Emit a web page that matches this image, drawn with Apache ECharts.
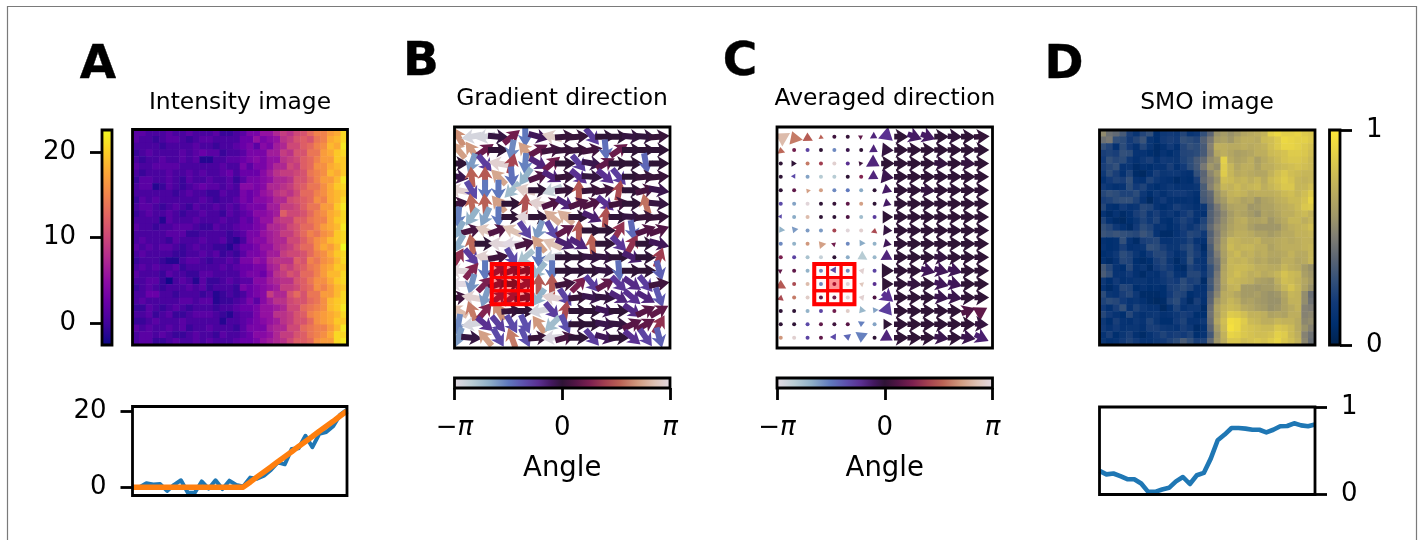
<!DOCTYPE html>
<html><head><meta charset="utf-8">
<style>html,body{margin:0;padding:0;background:#fff}#c{width:1423px;height:540px}</style>
<script src="https://cdn.jsdelivr.net/npm/echarts@6/dist/echarts.min.js"></script>
</head><body><div id="c"></div>
<script>
const titles = ['Intensity image','Gradient direction','Averaged direction','SMO image'];
const panelLetters = ['A','B','C','D'];
const plasmaStops = ['#0d0887','#41049d','#6a00a8','#8f0da4','#b12a90','#cc4778','#e16462','#f1844b','#fca636','#fcce25','#f0f921'];
const cividisStops = ['#00224e','#002f6f','#123a78','#33507a','#5a6474','#7f7d74','#a09768','#b8aa60','#d0be54','#e8d446','#fee838'];
const twilightStops = [[0,'#e2d9e2'],[0.08,'#b9cdd4'],[0.16,'#8fb0c8'],[0.25,'#5f78bd'],[0.32,'#5d50ad'],[0.39,'#5a2f91'],[0.45,'#43185f'],[0.5,'#2f1436'],[0.56,'#521545'],[0.63,'#7d2050'],[0.7,'#a34050'],[0.77,'#bb6355'],[0.85,'#d19a7e'],[0.93,'#dfc3b5'],[1,'#e2d9e2']];

const intensityRows = [
[1,1,0,0,0,1,0,0,1,0,0,0,1,-1,-1,0,1,3,3,5,5,7,9,8,10,11,13,15,15,17,18,21],
[1,0,0,-1,0,1,1,0,-1,0,1,1,0,0,0,0,2,2,5,3,4,5,8,9,11,12,11,14,15,18,19,21],
[0,0,0,0,-1,0,0,0,0,1,0,0,-1,0,0,1,2,3,1,4,3,6,7,10,10,12,13,15,16,19,18,22],
[-1,0,1,0,0,0,0,1,0,1,2,1,1,-1,0,0,1,3,3,3,6,6,9,8,11,11,14,14,17,18,20,21],
[0,-1,0,0,1,0,0,1,0,1,-2,-2,0,0,1,1,2,3,4,3,5,5,8,9,10,12,13,15,17,17,20,20],
[1,0,0,1,1,1,1,0,0,0,0,0,0,1,0,0,3,1,3,3,5,7,7,10,9,12,13,16,16,18,19,20],
[0,-1,0,0,0,1,0,0,1,0,1,0,0,1,2,0,2,2,2,4,6,8,9,9,10,11,14,15,16,19,18,20],
[-1,1,1,0,0,1,0,-1,1,0,0,1,0,0,1,-1,1,3,3,4,5,7,7,8,11,11,13,15,17,17,19,22],
[0,1,1,-2,-1,1,0,-1,0,1,2,1,1,0,1,0,4,4,3,4,7,7,8,9,11,12,14,14,16,18,20,21],
[0,0,0,0,0,0,-1,0,1,0,0,-1,-1,1,0,0,3,2,3,5,6,8,9,8,10,13,13,15,16,18,19,20],
[-1,1,0,1,0,0,0,0,0,0,1,0,-1,0,0,1,3,2,4,4,5,7,7,10,11,12,13,16,15,18,19,21],
[0,1,1,0,-1,0,1,0,-1,1,0,0,1,0,1,0,2,3,3,3,6,6,9,9,10,12,14,14,17,17,20,22],
[-1,0,1,0,0,1,0,-1,0,0,1,0,0,-1,1,0,1,2,4,4,5,6,12,10,10,11,13,15,16,18,19,21],
[0,0,0,0,-2,1,0,0,0,1,0,0,0,1,0,0,2,1,3,5,5,8,9,9,12,12,14,15,15,18,20,21],
[1,0,0,-1,0,0,1,1,1,0,-1,-1,1,0,0,1,2,2,3,4,7,7,8,10,11,13,13,15,17,18,19,22],
[0,0,0,0,0,1,1,1,-1,-1,0,0,0,0,-1,0,1,3,3,5,6,7,9,9,11,13,15,14,16,17,20,21],
[0,1,0,0,0,-1,1,0,0,0,1,0,0,1,-1,-2,0,3,4,4,6,7,7,10,10,12,14,16,17,19,20,21],
[1,0,1,0,1,1,0,-1,0,1,0,0,-1,-1,-2,0,2,2,3,5,5,7,8,9,11,13,13,16,18,17,19,23],
[0,1,0,0,0,0,-1,-1,0,0,1,0,1,-1,0,-1,1,3,3,4,6,6,9,10,10,11,13,15,16,18,20,21],
[-1,0,0,0,-1,-2,-2,0,1,1,0,-1,0,0,1,0,3,3,5,4,7,8,8,8,12,11,15,14,16,17,19,21],
[0,1,0,1,0,0,1,-1,0,0,0,0,0,1,0,1,2,2,3,3,6,7,10,9,11,12,14,15,17,18,20,20],
[1,0,0,0,-1,1,0,0,-1,-1,1,1,0,0,0,0,2,3,3,2,5,8,9,11,10,13,13,15,17,19,19,21],
[0,0,1,1,-1,-3,0,1,0,-2,1,-1,-1,0,1,0,1,1,4,4,6,7,8,8,11,12,14,16,16,18,20,21],
[-1,0,1,0,-1,0,0,0,1,0,1,-1,0,0,0,-1,3,2,3,4,5,6,9,9,10,12,13,16,15,17,19,20],
[0,0,2,2,0,0,-1,0,0,0,-1,0,-2,-1,0,-1,0,2,3,4,9,7,7,11,13,11,14,14,17,17,19,21],
[0,1,0,0,0,0,0,1,1,0,1,1,-2,-1,-1,0,1,3,1,4,6,8,8,10,11,11,13,14,16,19,20,21],
[-1,-1,1,0,-1,0,1,0,-1,0,0,0,-1,0,0,1,2,2,3,5,5,6,7,10,10,13,14,15,16,19,20,22],
[0,0,1,-1,0,1,-1,-1,0,1,1,1,0,-1,-2,0,1,1,3,5,5,8,8,9,11,12,15,16,17,18,19,21],
[-1,-1,0,1,0,0,0,1,0,0,0,0,0,-2,0,0,1,2,3,4,5,6,8,9,11,11,13,16,17,18,20,20],
[1,0,1,0,0,1,0,1,-1,0,0,1,0,0,0,-1,1,3,3,3,6,7,7,10,10,13,14,15,15,17,19,22],
[0,1,1,0,1,0,-1,-1,0,1,0,0,-1,1,0,0,1,2,4,4,5,7,9,9,11,12,14,15,16,18,21,21],
[0,1,1,-1,-1,0,1,0,0,1,0,1,0,0,0,1,2,2,3,5,6,7,8,10,12,12,13,16,17,17,21,22]
];
const smoRows = [
[55,45,42,35,22,15,25,30,10,18,20,18,25,15,18,30,40,58,62,58,62,68,70,72,75,88,92,88,88,90,86,84],
[45,48,30,28,20,25,32,15,10,20,22,20,30,28,25,38,48,62,65,60,68,72,72,70,78,80,85,92,90,88,88,85],
[30,25,12,28,20,12,25,15,8,12,20,12,25,30,28,35,52,72,72,70,70,72,70,72,74,80,85,90,90,88,85,82],
[22,24,22,30,28,14,14,10,8,14,10,15,25,26,28,35,50,68,72,68,64,66,68,72,72,78,80,82,86,86,84,80],
[20,30,26,28,18,12,18,22,12,20,18,16,24,28,35,42,55,60,88,70,66,68,72,64,70,74,78,82,84,84,82,78],
[22,26,30,14,16,8,12,10,14,14,22,12,20,28,34,48,60,56,86,76,68,72,72,66,72,72,76,78,80,82,80,78],
[18,28,22,12,24,8,6,12,22,16,18,18,14,12,30,40,54,62,86,76,70,72,70,68,68,74,80,84,80,78,76,76],
[12,20,24,22,30,14,12,24,18,14,12,8,12,10,22,42,50,58,80,78,74,76,72,76,70,78,82,86,82,76,74,76],
[20,15,12,14,28,20,24,14,10,14,18,14,14,14,16,36,52,62,76,74,78,74,76,78,72,76,80,84,84,76,76,80],
[26,30,28,24,24,28,18,10,18,12,18,20,20,16,12,36,42,58,68,74,76,74,70,72,72,72,74,78,80,76,80,86],
[22,24,28,30,30,24,14,6,14,20,12,12,12,14,10,34,40,56,62,72,70,66,68,60,66,68,72,74,78,78,82,90],
[26,12,10,20,14,16,26,24,14,10,14,22,18,16,12,16,36,48,58,66,68,68,60,62,66,66,70,72,74,78,84,86],
[14,8,14,8,12,22,26,16,22,14,18,12,20,24,14,12,38,46,54,62,68,66,62,58,66,64,68,72,72,76,78,74],
[24,12,8,6,10,16,24,18,24,12,10,18,24,20,12,24,38,48,56,64,70,72,66,66,68,60,66,70,76,76,72,76],
[30,26,18,12,8,20,28,24,14,16,10,14,22,16,22,28,42,52,58,66,70,70,64,60,60,60,60,68,72,74,76,80],
[32,30,32,30,28,26,32,28,14,8,8,14,20,26,24,18,38,50,60,68,72,72,70,66,66,62,66,70,70,74,74,76],
[12,10,12,30,14,8,22,24,26,14,14,16,18,24,14,12,40,52,64,76,74,72,72,74,68,68,70,72,70,72,74,74],
[14,10,12,22,12,14,16,30,28,22,16,16,24,28,20,8,36,54,66,78,74,76,76,72,72,66,70,72,72,72,74,76],
[10,12,18,28,24,16,10,20,26,26,20,12,16,28,22,12,34,50,64,74,78,72,74,70,72,68,68,70,74,70,70,76],
[12,8,14,26,24,10,8,10,22,26,16,8,16,30,16,14,36,46,62,76,74,76,72,68,70,66,66,72,72,68,70,76],
[34,26,14,10,26,12,16,8,20,24,20,10,8,24,20,14,30,44,66,76,78,78,76,72,72,70,70,76,72,70,62,58],
[36,30,14,14,20,12,8,14,12,20,24,14,12,26,26,18,30,48,68,76,80,76,72,74,70,72,76,82,78,76,64,60],
[18,10,20,12,14,16,16,12,14,18,22,20,28,22,24,8,34,50,68,78,76,74,72,66,64,62,72,80,78,74,68,62],
[14,8,14,26,24,10,14,10,12,10,22,24,28,24,14,12,32,50,66,74,76,62,62,60,62,62,68,76,82,76,66,58],
[28,16,14,22,26,18,8,8,8,10,20,26,24,10,14,14,38,54,70,72,68,62,62,64,60,58,60,68,76,74,56,44],
[24,28,26,20,14,16,12,8,6,8,24,28,18,8,22,12,40,60,70,76,72,64,66,62,60,58,58,66,74,74,56,46],
[20,12,22,30,14,24,18,14,14,6,12,24,14,18,18,8,44,66,74,78,76,70,68,64,62,58,60,66,70,74,52,50],
[26,20,14,10,26,16,12,16,18,12,14,18,22,20,10,10,46,64,76,86,84,80,74,74,72,66,68,66,72,72,52,54],
[18,10,22,14,12,18,14,24,16,10,10,20,24,14,14,18,44,68,80,94,92,86,78,76,72,72,76,74,74,70,54,56],
[20,14,20,14,16,16,12,22,22,18,16,14,22,18,8,12,40,62,78,96,92,84,82,80,78,78,84,82,78,70,58,52],
[14,22,10,16,22,12,8,14,20,24,20,22,20,24,10,14,34,58,74,90,88,84,82,80,80,82,88,86,78,72,52,46],
[16,12,14,20,24,20,14,14,18,20,24,28,36,30,22,24,42,60,72,84,84,80,82,84,82,86,90,84,80,74,54,44]
];

const rawProfile = [0,0,1,0.7,0.8,-1,0.6,1.8,-1.5,-1.5,1.5,-0.4,1.8,-0.5,1.7,0.6,0.2,2.5,2.2,3,4.5,6.5,6,10,10.2,13.5,10.5,14,14.5,16,19,20.4];
const fitProfile = [0,0,0,0,0,0,0,0,0,0,0,0,0,0,0,0,0,1.3,2.7,4,5.3,6.7,8,9.3,10.7,12,13.3,14.7,16,17.3,18.7,20];
const smoProfile = [0.27,0.23,0.24,0.21,0.175,0.175,0.125,0.03,0.03,0.057,0.076,0.15,0.2,0.12,0.22,0.247,0.41,0.62,0.685,0.76,0.76,0.753,0.74,0.74,0.71,0.74,0.78,0.783,0.814,0.79,0.78,0.8];

const gradientAngles = [
[120,-170,-170,-5,40,-90,-15,165,5,5,-50,0,0,-5,-3,5],
[130,125,35,0,-100,130,30,10,5,5,10,-85,35,0,0,0],
[0,-110,-50,170,75,-95,-30,40,0,-50,-10,30,0,0,-80,0],
[-10,95,90,135,-85,-125,20,-30,5,-40,-5,-40,-50,0,5,5],
[170,-60,-90,-90,-135,165,0,-160,5,90,5,10,80,0,15,-10],
[10,100,95,130,0,85,170,20,-30,20,20,-40,10,0,105,-5],
[-95,-125,-115,-90,0,175,0,140,140,0,-25,85,0,-5,5,5],
[-120,15,160,20,155,-55,-110,-60,30,90,0,0,60,-80,20,20],
[-120,100,0,175,180,15,130,155,-25,-30,95,0,-45,60,0,-15],
[60,-50,170,10,-60,-140,-90,-165,0,0,-5,-5,0,-25,0,70],
[175,50,-90,30,20,10,-130,-90,0,0,0,-5,-85,0,0,-75],
[180,-105,45,20,0,30,90,90,10,45,-50,30,-45,-35,-50,10],
[10,170,-110,40,40,10,-125,170,-55,5,-10,-5,-30,-40,-30,-70],
[150,110,50,120,5,0,-170,-50,80,0,0,-15,0,-35,25,30],
[-100,-170,-40,-50,-60,-65,125,-135,-65,0,0,-10,-5,25,30,60],
[-110,-5,130,-60,110,-65,5,-175,15,0,-50,-15,0,-40,-55,-75]
];
const averagedAngles = [
[150,110,92,95,10,5,30,-30,-40,0,-20,-20,0,-3,0,3],
[100,40,-55,0,-100,-10,0,-30,-5,0,0,0,0,0,0,0],
[0,0,110,70,170,-40,10,-30,0,0,0,0,-5,0,-5,0],
[0,-60,-115,-150,-150,0,50,-30,-10,0,0,0,0,0,0,0],
[0,30,130,130,-100,-90,-120,0,-20,0,0,-5,0,0,0,0],
[-60,-115,175,0,5,30,130,0,-20,0,0,0,0,0,0,0],
[-60,-120,150,0,0,20,-135,-50,0,0,0,0,0,0,0,0],
[-125,-110,-110,-110,75,175,170,80,-5,0,0,0,0,0,0,0],
[-100,-125,125,130,40,-100,-120,-125,-15,0,0,0,0,0,0,0],
[45,-55,-140,-160,0,-120,-150,-130,-30,0,0,0,-5,0,0,0],
[30,30,-125,-100,-60,-100,170,-55,0,0,0,-15,-15,-15,0,0],
[90,80,150,-100,40,175,160,-40,0,0,-5,0,-15,-15,0,0],
[80,110,165,30,40,175,170,20,-40,0,0,0,-10,-10,0,0],
[0,0,-125,-55,40,165,-130,-115,-50,0,0,0,0,0,20,30],
[0,0,-60,30,10,25,-95,-115,0,0,0,0,0,0,0,-5],
[125,170,-55,30,-60,-80,-95,0,-30,0,0,0,-10,0,-10,-25]
];
const averagedMagnitudes = [
[0.6,0.55,0.4,0.2,0.1,0.1,0.2,0.3,0.6,0.68,0.72,0.72,0.7,0.7,0.7,0.75],
[0.3,0.1,0.1,0.1,0.1,0.1,0.1,0.35,0.55,0.68,0.7,0.7,0.7,0.7,0.7,0.72],
[0.1,0.25,0.1,0.1,0.1,0.1,0.2,0.55,0.65,0.7,0.7,0.7,0.7,0.7,0.7,0.7],
[0.1,0.2,0.1,0.1,0.1,0.1,0.1,0.42,0.58,0.7,0.7,0.7,0.7,0.7,0.7,0.7],
[0.1,0.1,0.2,0.1,0.1,0.1,0.1,0.1,0.42,0.7,0.7,0.7,0.7,0.7,0.7,0.7],
[0.1,0.1,0.1,0.1,0.1,0.1,0.1,0.1,0.35,0.68,0.7,0.7,0.7,0.7,0.7,0.7],
[0.18,0.1,0.1,0.1,0.1,0.1,0.1,0.1,0.5,0.7,0.7,0.7,0.7,0.7,0.7,0.7],
[0.27,0.27,0.1,0.1,0.1,0.1,0.1,0.25,0.42,0.7,0.7,0.7,0.7,0.7,0.7,0.7],
[0.1,0.1,0.1,0.32,0.2,0.1,0.27,0.1,0.36,0.7,0.7,0.7,0.7,0.7,0.7,0.7],
[0.1,0.1,0.1,0.1,0.1,0.1,0.4,0.1,0.48,0.7,0.7,0.7,0.7,0.7,0.7,0.7],
[0.2,0.1,0.1,0.1,0.27,0.1,0.25,0.1,0.58,0.7,0.7,0.7,0.7,0.7,0.7,0.7],
[0.42,0.1,0.1,0.1,0.1,0.1,0.2,0.1,0.55,0.7,0.7,0.7,0.7,0.7,0.7,0.7],
[0.27,0.1,0.1,0.1,0.1,0.1,0.25,0.1,0.65,0.7,0.7,0.7,0.7,0.7,0.7,0.7],
[0.1,0.1,0.1,0.1,0.1,0.1,0.3,0.25,0.58,0.7,0.7,0.7,0.7,0.7,0.7,0.6],
[0.1,0.1,0.1,0.1,0.1,0.1,0.27,0.1,0.42,0.7,0.7,0.7,0.7,0.7,0.7,0.65],
[0.1,0.1,0.1,0.1,0.27,0.3,0.48,0.1,0.52,0.7,0.7,0.7,0.7,0.7,0.7,0.72]
];
const gradientCells = [[3,10,1],[4,10,1],[5,10,1],[3,11,1],[4,11,1],[5,11,1],[3,12,1],[4,12,1],[5,12,1]];
const averagedCells = [[3,10,0],[4,10,0],[5,10,0],[3,11,0],[4,11,1],[5,11,0],[3,12,0],[4,12,0],[5,12,0]];

const PI = Math.PI;
const FONT = '"DejaVu Sans"';
const LABEL = 26;
const boxes = {
  aBar:[102,130,10,215], aHeat:[132.5,129.5,215,215.5], aLine:[132.5,406.5,214.5,89],
  bArrow:[454.5,127,215.5,221], bBar:[454.5,378,215.5,10],
  cArrow:[777,127,215.5,221], cBar:[777,378,215.5,10],
  dHeat:[1099.5,130,215.5,215], dBar:[1329.5,130,10.5,215], dLine:[1099.5,407,215.5,87.5]
};
const names = Object.keys(boxes);
const G = n => names.indexOf(n);
const grid = names.map(n => ({left:boxes[n][0],top:boxes[n][1],width:boxes[n][2],height:boxes[n][3],containLabel:false}));

function hexRgb(h){return [parseInt(h.slice(1,3),16),parseInt(h.slice(3,5),16),parseInt(h.slice(5,7),16)];}
function twilightColor(deg){
  let t=(deg+180)/360; t=Math.max(0,Math.min(1,t));
  for(let i=1;i<twilightStops.length;i++){
    if(t<=twilightStops[i][0]){
      const a=twilightStops[i-1],b=twilightStops[i],f=(t-a[0])/(b[0]-a[0]);
      const ca=hexRgb(a[1]),cb=hexRgb(b[1]);
      return 'rgb('+ca.map((v,k)=>Math.round(v+(cb[k]-v)*f)).join(',')+')';
    }
  }
  return twilightStops[twilightStops.length-1][1];
}
function cells(rows){const o=[];rows.forEach((r,y)=>r.forEach((v,x)=>o.push([x,y,v])));return o;}
function arrows(angles,mags){const o=[];angles.forEach((r,y)=>r.forEach((a,x)=>o.push([x,y,a,mags?mags[y][x]:1])));return o;}

const arrowShape=(scale,H,N,HW,SW)=>(p,api)=>{
  const pt=api.coord([api.value(0),api.value(1)]),deg=api.value(2),L=api.value(3)*scale;
  const a=deg*PI/180,ux=Math.cos(a),uy=-Math.sin(a),nx=-uy,ny=ux;
  const fill=twilightColor(deg);
  if(L<2.5) return {type:'circle',shape:{cx:pt[0],cy:pt[1],r:2},style:{fill}};
  let loc;
  if(L>=H){
    loc=[[-L/2,SW],[L/2-N,SW],[L/2-H,HW],[L/2,0],[L/2-H,-HW],[L/2-N,-SW],[-L/2,-SW]];
  }else{
    const s=L/H;
    loc=[[-L/2,HW*s],[L/2,0],[-L/2,-HW*s]];
  }
  const pts=loc.map(q=>[pt[0]+ux*q[0]+nx*q[1],pt[1]+uy*q[0]+ny*q[1]]);
  return {type:'polygon',shape:{points:pts},style:{fill}};
};
function renderCell(p,api){
  const c=api.value(0),r=api.value(1),on=api.value(2);
  const a=api.coord([c-0.5,r-0.5]),b=api.coord([c+0.5,r+0.5]);
  return {type:'rect',shape:{x:a[0],y:a[1],width:b[0]-a[0],height:b[1]-a[1]},
    style:{fill:on?'rgba(255,0,0,0.42)':'rgba(255,0,0,0.02)',stroke:'#ff0000',lineWidth:2.8}};
}
function renderBox(p,api){
  const a=api.coord([api.value(0),api.value(1)]),b=api.coord([api.value(2),api.value(3)]);
  return {type:'rect',shape:{x:a[0],y:a[1],width:b[0]-a[0],height:b[1]-a[1]},style:{fill:'none',stroke:'#ff0000',lineWidth:4}};
}
function colorbarSeries(g,horizontal,lo,hi,stops){
  return {type:'custom',xAxisIndex:g,yAxisIndex:g,silent:true,data:[[lo,hi]],z:2,
    renderItem:(p,api)=>{
      const v0=api.value(0),v1=api.value(1);
      const a=horizontal?api.coord([v0,0]):api.coord([0,v0]);
      const b=horizontal?api.coord([v1,1]):api.coord([1,v1]);
      return {type:'rect',shape:{x:Math.min(a[0],b[0]),y:Math.min(a[1],b[1]),width:Math.abs(b[0]-a[0]),height:Math.abs(b[1]-a[1])},
        style:{fill:{type:'linear',x:0,y:horizontal?0:1,x2:horizontal?1:0,y2:0,colorStops:stops}}};
    }};
}
function evenStops(list){return list.map((c,i)=>({offset:i/(list.length-1),color:c}));}
const twilightGradient = twilightStops.map(s=>({offset:s[0],color:s[1]}));
const N32=[...Array(32).keys()].map(String);

const off = (g,extra)=>Object.assign({gridIndex:g,show:false},extra);
const tickAxis=(g,pos,lo,hi,ticks,extra)=>Object.assign({gridIndex:g,type:'value',position:pos,min:lo,max:hi,
  axisLine:{show:false,onZero:false},splitLine:{show:false},
  axisTick:{show:true,length:12,lineStyle:{color:'#000',width:2.8},customValues:ticks},
  axisLabel:{show:true,customValues:ticks,color:'#000',fontFamily:FONT,fontSize:LABEL,margin:26,hideOverlap:false,showMinLabel:true,showMaxLabel:true}},extra||{});

const angleFmt = v => v<-1 ? '{i|\u2212\u03c0}' : v>1 ? '{i|\u03c0}' : '0';
const angleAxis = g => tickAxis(g,'bottom',-PI,PI,[-PI,0,PI],{
  name:'Angle',nameLocation:'middle',nameGap:67,nameTextStyle:{color:'#000',fontFamily:FONT,fontSize:27.5},
  axisLabel:{show:true,customValues:[-PI,0,PI],color:'#000',fontFamily:FONT,fontSize:LABEL,margin:27,formatter:angleFmt,
    rich:{i:{fontStyle:'italic',fontFamily:FONT,fontSize:LABEL,color:'#000'}}}});

const xAxis=[], yAxis=[];
function put(n,x,y){const g=G(n);xAxis[g]=x;yAxis[g]=y;}
put('aBar',off(G('aBar'),{type:'value',min:0,max:1}),tickAxis(G('aBar'),'left',-2.6,22.6,[0,10,20]));
put('aHeat',off(G('aHeat'),{type:'category',data:N32}),off(G('aHeat'),{type:'category',data:N32,inverse:true}));
put('aLine',off(G('aLine'),{type:'value',min:0,max:31}),tickAxis(G('aLine'),'left',-2.2,21.2,[0,20]));
['bArrow','cArrow'].forEach(n=>put(n,off(G(n),{type:'value',min:-0.28,max:15.8}),off(G(n),{type:'value',min:-0.72,max:15.77,inverse:true})));
['bBar','cBar'].forEach(n=>put(n,angleAxis(G(n)),off(G(n),{type:'value',min:0,max:1})));
put('dHeat',off(G('dHeat'),{type:'category',data:N32}),off(G('dHeat'),{type:'category',data:N32,inverse:true}));
put('dBar',off(G('dBar'),{type:'value',min:0,max:1}),tickAxis(G('dBar'),'right',0,1,[0,1]));
put('dLine',off(G('dLine'),{type:'value',min:0,max:31}),tickAxis(G('dLine'),'right',0,1,[0,1]));

const lineOf=(n,vals,color,w,z)=>({type:'line',xAxisIndex:G(n),yAxisIndex:G(n),data:vals.map((v,i)=>[i,v]),showSymbol:false,silent:true,z,clip:true,lineStyle:{color,width:w,join:'round',cap:'butt'}});
const arrowSeries=(n,d,draw)=>({type:'custom',xAxisIndex:G(n),yAxisIndex:G(n),data:d,clip:true,silent:true,z:3,renderItem:draw});
const cellSeries=(n,d)=>({type:'custom',xAxisIndex:G(n),yAxisIndex:G(n),data:d,clip:true,silent:true,z:4,renderItem:renderCell});
const boxSeries=(n,d)=>({type:'custom',xAxisIndex:G(n),yAxisIndex:G(n),data:[d],clip:true,silent:true,z:5,renderItem:renderBox});

const series=[
 {type:'heatmap',xAxisIndex:G('aHeat'),yAxisIndex:G('aHeat'),data:cells(intensityRows),silent:true,z:2},
 {type:'heatmap',xAxisIndex:G('dHeat'),yAxisIndex:G('dHeat'),data:cells(smoRows.map(r=>r.map(v=>v/100))),silent:true,z:2},
 colorbarSeries(G('aBar'),false,-2.6,22.6,evenStops(plasmaStops)),
 colorbarSeries(G('dBar'),false,0,1,evenStops(cividisStops)),
 colorbarSeries(G('bBar'),true,-PI,PI,twilightGradient),
 colorbarSeries(G('cBar'),true,-PI,PI,twilightGradient),
 lineOf('aLine',rawProfile,'#1f77b4',4,3),
 lineOf('aLine',fitProfile,'#ff7f0e',5.5,4),
 lineOf('dLine',smoProfile,'#1f77b4',4.6,3),
 arrowSeries('bArrow',arrows(gradientAngles),arrowShape(21,12.5,10.5,7.5,3)),
 arrowSeries('cArrow',arrows(averagedAngles,averagedMagnitudes),arrowShape(21,13,11,8,2.8)),
 cellSeries('bArrow',gradientCells),
 cellSeries('cArrow',averagedCells),
 boxSeries('bArrow',[2.5,9.5,5.5,12.5]),
 boxSeries('cArrow',[2.5,9.5,5.5,12.5])
];

const frames=names.map(n=>({type:'rect',z:50,silent:true,shape:{x:boxes[n][0],y:boxes[n][1],width:boxes[n][2],height:boxes[n][3]},style:{fill:'none',stroke:'#000',lineWidth:2.8}}));
const titleText=(s,cx,cy)=>({type:'text',z:50,silent:true,x:cx,y:cy,style:{text:s,fontFamily:FONT,fontSize:23.4,fill:'#000',align:'center',verticalAlign:'middle'}});
const letterText=(s,cx,cy)=>({type:'text',z:50,silent:true,x:cx,y:cy,style:{text:s,font:'bold 47px "DejaVu Sans"',fill:'#000',stroke:'#000',lineWidth:0.4,align:'center',verticalAlign:'middle'}});

const option={
  animation:false,backgroundColor:'#fff',grid,xAxis,yAxis,series,
  visualMap:[
   {show:false,seriesIndex:0,min:-3.2,max:23,dimension:2,inRange:{color:plasmaStops}},
   {show:false,seriesIndex:1,min:0,max:1,dimension:2,inRange:{color:cividisStops}}
  ],
  graphic:{elements:[
    {type:'rect',z:49,silent:true,shape:{x:7.5,y:6.5,width:1409,height:600},style:{fill:'none',stroke:'#7a7a7a',lineWidth:1.2}},
    ...frames,
    titleText(titles[0],240,103),titleText(titles[1],562,99),titleText(titles[2],885,99),titleText(titles[3],1207,103),
    letterText(panelLetters[0],98,65.5),letterText(panelLetters[1],421,62.5),letterText(panelLetters[2],740,62.5),letterText(panelLetters[3],1064,65.5)
  ]}
};
echarts.init(document.getElementById('c'),null,{renderer:'canvas'}).setOption(option);
</script></body></html>
